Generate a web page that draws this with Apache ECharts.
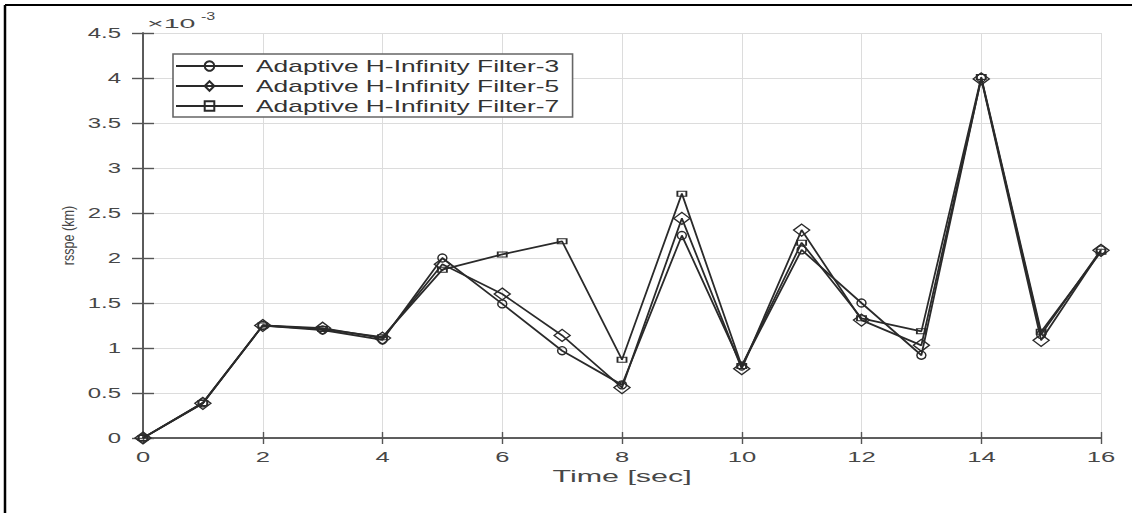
<!DOCTYPE html>
<html>
<head>
<meta charset="utf-8">
<script src="https://cdn.jsdelivr.net/npm/echarts@6/dist/echarts.min.js"></script>
<style>
  html, body { margin: 0; padding: 0; background: #fff; }
  #chart { width: 1132px; height: 513px; }
</style>
</head>
<body>
<div id="chart"></div>
<script>
// Time axis (sec)
const times = [0, 1, 2, 3, 4, 5, 6, 7, 8, 9, 10, 11, 12, 13, 14, 15, 16];
// rsspe (km), in units of 1e-3
const filter3 = [0, 0.39, 1.25, 1.20, 1.09, 2.00, 1.49, 0.97, 0.59, 2.25, 0.80, 2.09, 1.50, 0.92, 4.00, 1.15, 2.09];
const filter5 = [0, 0.385, 1.25, 1.22, 1.11, 1.93, 1.60, 1.14, 0.56, 2.44, 0.77, 2.31, 1.31, 1.03, 3.99, 1.085, 2.085];
const filter7 = [0, 0.39, 1.25, 1.21, 1.12, 1.87, 2.04, 2.185, 0.87, 2.715, 0.80, 2.17, 1.33, 1.185, 4.01, 1.18, 2.07];
const seriesNames = ['Adaptive H-Infinity Filter-3', 'Adaptive H-Infinity Filter-5', 'Adaptive H-Infinity Filter-7'];
const xTicks = { min: 0, max: 16, interval: 2 };
const yTicks = { min: 0, max: 4.5, interval: 0.5 };
const yExponent = '-3';
const xTitle = 'Time [sec]';
const yTitle = 'rsspe (km)';

const chart = echarts.init(document.getElementById('chart'), null, { renderer: 'svg' });
const FONT = 'Liberation Sans';
const lineCol = '#2a2a2a';
const axisCol = '#555';
const textCol = '#474747';

function pairs(ys) { return times.map((t, i) => [t, ys[i]]); }

function mkSeries(name, ys, symbol, size, z) {
  return {
    name: name, type: 'line', data: pairs(ys), xAxisIndex: 0, yAxisIndex: 0,
    symbol: symbol, symbolSize: size, showSymbol: true, z: z,
    lineStyle: { color: lineCol, width: 1.8 },
    itemStyle: { color: 'rgba(255,255,255,0)', borderColor: lineCol, borderWidth: 1.4 },
    emphasis: { disabled: true }, animation: false
  };
}

const option = {
  backgroundColor: '#fff',
  animation: false,
  grid: { left: 143, right: 31, top: 33, bottom: 75, containLabel: false },
  legend: {
    show: true, orient: 'vertical', left: 173, top: 54,
    data: seriesNames,
    padding: [2, 121, 1, 2], itemGap: 0, itemWidth: 67, itemHeight: 12,
    backgroundColor: '#fff', borderColor: '#666', borderWidth: 1.6, borderRadius: 0,
    textStyle: { fontFamily: FONT, fontSize: 17, color: '#333', lineHeight: 20, padding: [0, 0, 0, 8] },
    selectedMode: false
  },
  xAxis: [
    {
      type: 'value', position: 'bottom', min: xTicks.min, max: xTicks.max, interval: xTicks.interval,
      name: xTitle, nameLocation: 'middle', nameGap: 30,
      nameTextStyle: { fontFamily: FONT, fontSize: 16, color: textCol },
      axisLine: { show: true, lineStyle: { color: axisCol, width: 1.6 } },
      axisTick: { show: true, inside: true, length: 6, lineStyle: { color: axisCol, width: 1.4 } },
      axisLabel: { fontFamily: FONT, fontSize: 15.5, color: textCol, margin: 10 },
      splitLine: { show: true, lineStyle: { color: '#dcdcdc', width: 1 } }
    },
    {
      type: 'value', position: 'top', min: xTicks.min, max: xTicks.max, interval: xTicks.interval,
      axisLine: { show: true, lineStyle: { color: axisCol, width: 1.6 } },
      axisTick: { show: true, inside: true, length: 6, lineStyle: { color: axisCol, width: 1.4 } },
      axisLabel: { show: false }, splitLine: { show: false }
    }
  ],
  yAxis: [
    {
      type: 'value', position: 'left', min: yTicks.min, max: yTicks.max, interval: yTicks.interval,
      name: yTitle, nameLocation: 'middle', nameGap: 66, nameRotate: 90,
      nameTextStyle: { fontFamily: FONT, fontSize: 17, color: textCol },
      axisLine: { show: true, lineStyle: { color: axisCol, width: 1.6 } },
      axisTick: { show: true, inside: true, length: 11, lineStyle: { color: axisCol, width: 1.4 } },
      axisLabel: { fontFamily: FONT, fontSize: 14.5, color: textCol, margin: 22 },
      splitLine: { show: true, lineStyle: { color: '#dcdcdc', width: 1 } }
    },
    {
      type: 'value', position: 'right', min: yTicks.min, max: yTicks.max, interval: yTicks.interval,
      axisLine: { show: true, lineStyle: { color: axisCol, width: 1.6 } },
      axisTick: { show: true, inside: true, length: 11, lineStyle: { color: axisCol, width: 1.4 } },
      axisLabel: { show: false }, splitLine: { show: false }
    }
  ],
  graphic: [
    { type: 'line', shape: { x1: 5, y1: 5, x2: 1132, y2: 5 }, style: { stroke: '#000', lineWidth: 2 }, silent: true },
    { type: 'line', shape: { x1: 5, y1: 5, x2: 5, y2: 513 }, style: { stroke: '#000', lineWidth: 2.5 }, silent: true },
    { type: 'text', left: 147, top: 17, style: { text: '×10', fontFamily: FONT, fontSize: 13, fill: textCol }, silent: true },
    { type: 'text', left: 201, top: 11, style: { text: yExponent, fontFamily: FONT, fontSize: 10, fill: textCol }, silent: true }
  ],
  series: [
    mkSeries(seriesNames[0], filter3, 'circle', [9, 8], 3),
    mkSeries(seriesNames[1], filter5, 'diamond', [16, 12], 4),
    mkSeries(seriesNames[2], filter7, 'rect', [9, 5], 5)
  ]
};
chart.setOption(option);

// The reference figure's lettering is horizontally widened (and the rotated title compressed
// along its length); adjust each SVG text's glyph run, keeping the label's own alignment.
function stretchFor(s) {
  if (s === yTitle) return 0.74;
  if (s === xTitle) return 1.9;
  if (seriesNames.indexOf(s) >= 0) return 1.55;
  if (s === '×10') return 2.2;
  if (s === yExponent) return 1.6;
  return 1.65;
}
function stretchTexts() {
  document.querySelectorAll('#chart svg text').forEach(function (t) {
    const s = (t.textContent || '').trim();
    if (!s) return;
    t.removeAttribute('textLength');
    t.removeAttribute('lengthAdjust');
    t.removeAttribute('dx');
    if (t.dataset.anchor) {
      t.setAttribute('text-anchor', t.dataset.anchor);
      t.style.textAnchor = t.dataset.anchor;
    }
    const anchor = getComputedStyle(t).textAnchor || 'start';
    t.dataset.anchor = anchor;
    const bb = t.getBBox();
    const len = t.getComputedTextLength();
    if (!(len > 0)) return;
    const newLen = len * stretchFor(s);
    let targetLeft;
    if (anchor === 'end') targetLeft = bb.x + bb.width - newLen;
    else if (anchor === 'middle') targetLeft = bb.x + bb.width / 2 - newLen / 2;
    else targetLeft = bb.x;
    t.setAttribute('text-anchor', 'start');
    t.style.textAnchor = 'start';
    const nb = t.getBBox();
    const dx = targetLeft - nb.x;
    t.setAttribute('textLength', newLen.toFixed(1));
    t.setAttribute('lengthAdjust', 'spacingAndGlyphs');
    if (Math.abs(dx) > 0.2) t.setAttribute('dx', dx.toFixed(1));
  });
}
stretchTexts();
chart.on('finished', stretchTexts);
setTimeout(stretchTexts, 50);
setTimeout(stretchTexts, 300);
</script>
</body>
</html>
